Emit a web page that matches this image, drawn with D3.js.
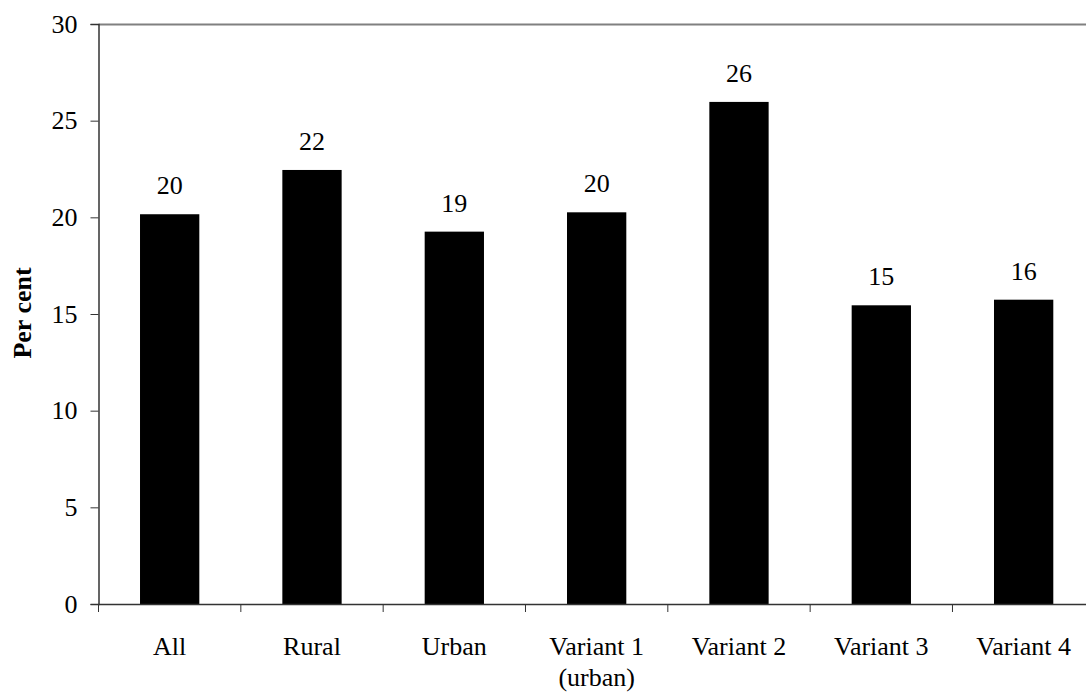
<!DOCTYPE html>
<html>
<head>
<meta charset="utf-8">
<script src="https://cdn.jsdelivr.net/npm/d3@7"></script>
<style>
  html, body { margin: 0; padding: 0; background: #fff; overflow: hidden; }
  svg { display: block; }
  svg text { font-family: "Liberation Serif", "Times New Roman", serif; }
</style>
</head>
<body>
<svg id="chart" width="1086" height="693"></svg>
<script>
const categories = ["All", "Rural", "Urban", "Variant 1\n(urban)", "Variant 2", "Variant 3", "Variant 4"];
const values = [20.16, 22.45, 19.26, 20.26, 25.97, 15.45, 15.74];
const valueLabels = ["20", "22", "19", "20", "26", "15", "16"];
const yTicks = [0, 5, 10, 15, 20, 25, 30];

(function () {
const svg = d3.select("#chart");
const mLeft = 98.5, mTop = 24, mBottom = 604;
const step = 142.33;
const mRight = mLeft + step * categories.length;
const fontSize = 26;
const ff = "Liberation Serif, Times New Roman, serif";

const x = d3.scaleBand().domain(categories).range([mLeft, mRight]).padding(0);
const y = d3.scaleLinear().domain([0, 30]).range([mBottom, mTop]);
const barW = 59.3;

// top border
svg.append("line")
  .attr("x1", mLeft).attr("x2", mRight)
  .attr("y1", y(30) + 0.5).attr("y2", y(30) + 0.5)
  .attr("stroke", "#808080").attr("stroke-width", 2);

// bars
svg.append("g").selectAll("rect").data(values).join("rect")
  .attr("x", (d, i) => x(categories[i]) + x.bandwidth() / 2 - barW / 2)
  .attr("width", barW)
  .attr("y", d => y(d))
  .attr("height", d => y(0) - y(d))
  .attr("fill", "#000");

// value labels
svg.append("g").selectAll("text").data(values).join("text")
  .attr("x", (d, i) => x(categories[i]) + x.bandwidth() / 2)
  .attr("y", d => y(d) - 20)
  .attr("text-anchor", "middle")
  .attr("font-family", ff)
  .attr("font-size", fontSize)
  .attr("fill", "#000")
  .text((d, i) => valueLabels[i]);

// y axis
const yAxis = d3.axisLeft(y).tickValues(yTicks).tickSize(8).tickPadding(13).tickFormat(d3.format("d"));
const gy = svg.append("g").attr("transform", `translate(${mLeft},0)`).call(yAxis);
gy.attr("font-family", ff).attr("font-size", fontSize);
gy.select(".domain").attr("stroke", "#333").attr("stroke-width", 1.5);
gy.selectAll(".tick line").attr("stroke", "#333");
gy.selectAll(".tick text").attr("fill", "#000");

// x axis: ticks at band boundaries
const xAxisG = svg.append("g");
xAxisG.append("line")
  .attr("x1", mLeft).attr("x2", mRight)
  .attr("y1", mBottom + 0.5).attr("y2", mBottom + 0.5)
  .attr("stroke", "#333").attr("stroke-width", 1.5);
const bounds = categories.map(c => x(c)).concat([mRight]);
xAxisG.selectAll("line.tk").data(bounds).join("line")
  .attr("class", "tk")
  .attr("x1", d => d).attr("x2", d => d)
  .attr("y1", mBottom).attr("y2", mBottom + 8)
  .attr("stroke", "#333");

// category labels
const lab = svg.append("g").selectAll("text").data(categories).join("text")
  .attr("x", d => x(d) + x.bandwidth() / 2)
  .attr("y", 655)
  .attr("text-anchor", "middle")
  .attr("font-family", ff)
  .attr("font-size", fontSize)
  .attr("fill", "#000");
lab.each(function(d) {
  const lines = d.split("\n");
  const t = d3.select(this);
  lines.forEach((ln, i) => {
    t.append("tspan")
      .attr("x", x(d) + x.bandwidth() / 2)
      .attr("dy", i === 0 ? 0 : 31)
      .text(ln);
  });
});

// y axis title
svg.append("text")
  .attr("transform", `translate(31, ${y(15) - 1}) rotate(-90)`)
  .attr("text-anchor", "middle")
  .attr("font-family", ff)
  .attr("font-size", fontSize)
  .attr("font-weight", "bold")
  .attr("fill", "#000")
  .text("Per cent");
})();
</script>
</body>
</html>
